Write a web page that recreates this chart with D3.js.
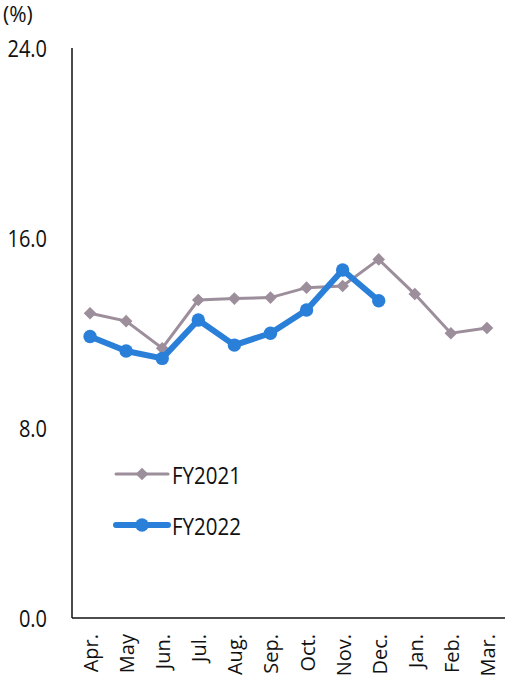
<!DOCTYPE html>
<html>
<head>
<meta charset="utf-8">
<script src="https://cdn.jsdelivr.net/npm/d3@7"></script>
<style>
  body { margin: 0; background: #fff; }
  text { font-family: "Open Sans", "Noto Sans", sans-serif; fill: #111; }
</style>
</head>
<body>
<div id="chart"></div>
<script>
// months of the fiscal year
var months = ['Apr.', 'May', 'Jun.', 'Jul.', 'Aug.', 'Sep.', 'Oct.', 'Nov.', 'Dec.', 'Jan.', 'Feb.', 'Mar.'];
var fy2021 = [12.83, 12.5, 11.36, 13.39, 13.45, 13.49, 13.91, 13.98, 15.1, 13.64, 11.99, 12.21];
var fy2022 = [11.85, 11.24, 10.93, 12.55, 11.49, 11.99, 12.97, 14.65, 13.36];
var yTicks = [0, 8, 16, 24];

var width = 510, height = 685;
var margin = { top: 48, left: 72, right: 5, bottom: 67 };

var svg = d3.select('#chart').append('svg')
  .attr('width', width)
  .attr('height', height);

var x = d3.scaleBand()
  .domain(months)
  .range([margin.left, width - margin.right]);

var y = d3.scaleLinear()
  .domain([0, 24])
  .range([height - margin.bottom, margin.top]);

function cx(i) { return x(months[i]) + x.bandwidth() / 2; }

// axes lines
svg.append('line')
  .attr('x1', margin.left).attr('x2', margin.left)
  .attr('y1', y(24)).attr('y2', y(0))
  .attr('stroke', '#111').attr('stroke-width', 1.5);

svg.append('line')
  .attr('x1', margin.left).attr('x2', width - margin.right)
  .attr('y1', y(0)).attr('y2', y(0))
  .attr('stroke', '#111').attr('stroke-width', 1.5);

// y tick labels (text is a bit stretched vertically in the original)
svg.selectAll('.ytick')
  .data(yTicks)
  .enter().append('g')
  .attr('class', 'ytick')
  .attr('transform', function(d) { return 'translate(47,' + y(d) + ')scale(1,1.2)'; })
  .append('text')
  .attr('text-anchor', 'end')
  .attr('dy', '0.36em')
  .style('font-size', '20px')
  .text(function(d) { return d3.format('.1f')(d); });

svg.append('text')
  .attr('x', 3)
  .attr('y', 22)
  .style('font-size', '21px')
  .text('(%)');

// x labels, rotated
svg.selectAll('.xlab')
  .data(months)
  .enter().append('text')
  .attr('class', 'xlab')
  .attr('transform', function(d, i) {
    return 'translate(' + (cx(i) + 8) + ',' + (y(0) + 16) + ')rotate(-90)';
  })
  .attr('text-anchor', 'end')
  .style('font-size', '20px')
  .text(function(d) { return d; });

var line = d3.line()
  .x(function(d, i) { return cx(i); })
  .y(function(d) { return y(d); });

var grey = '#9d8e9c', blue = '#2a7fd8';

// FY2021
svg.append('path')
  .datum(fy2021)
  .attr('d', line)
  .attr('fill', 'none')
  .attr('stroke', grey)
  .attr('stroke-width', 3);

var diamond = d3.symbol().type(d3.symbolSquare).size(80);

svg.selectAll('.d21')
  .data(fy2021)
  .enter().append('path')
  .attr('class', 'd21')
  .attr('d', diamond)
  .attr('transform', function(d, i) {
    return 'translate(' + cx(i) + ',' + y(d) + ')rotate(45)';
  })
  .attr('fill', grey);

// FY2022
svg.append('path')
  .datum(fy2022)
  .attr('d', line)
  .attr('fill', 'none')
  .attr('stroke', blue)
  .attr('stroke-width', 6)
  .attr('stroke-linejoin', 'round');

svg.selectAll('.d22')
  .data(fy2022)
  .enter().append('circle')
  .attr('class', 'd22')
  .attr('cx', function(d, i) { return cx(i); })
  .attr('cy', function(d) { return y(d); })
  .attr('r', 6.7)
  .attr('fill', blue);

// legend
var legend = [
  { name: 'FY2021', color: grey, w: 3, y: 474, shape: 'diamond' },
  { name: 'FY2022', color: blue, w: 6, y: 525, shape: 'circle' }
];

legend.forEach(function(l) {
  svg.append('line')
    .attr('x1', 116).attr('x2', 168)
    .attr('y1', l.y).attr('y2', l.y)
    .attr('stroke', l.color)
    .attr('stroke-width', l.w)
    .attr('stroke-linecap', 'round');
  if (l.shape === 'diamond') {
    svg.append('path')
      .attr('d', diamond)
      .attr('transform', 'translate(142,' + l.y + ')rotate(45)')
      .attr('fill', l.color);
  } else {
    svg.append('circle')
      .attr('cx', 142).attr('cy', l.y).attr('r', 6.7)
      .attr('fill', l.color);
  }
  svg.append('g')
    .attr('transform', 'translate(172,' + (l.y + 2) + ')scale(1,1.15)')
    .append('text')
    .attr('dy', '0.36em')
    .style('font-size', '20.5px')
    .text(l.name);
});
</script>
</body>
</html>
